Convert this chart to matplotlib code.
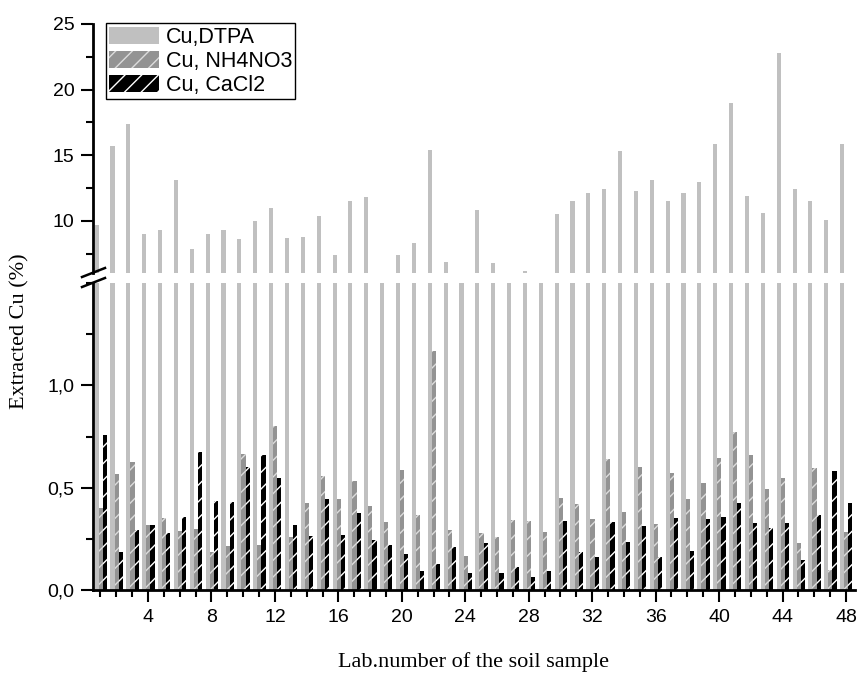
import numpy as np
import matplotlib
matplotlib.use('Agg')
import matplotlib.pyplot as plt
from matplotlib.ticker import MultipleLocator, FuncFormatter
from matplotlib.patches import Patch
from matplotlib.lines import Line2D

samples = np.arange(1, 49)

# Cu extracted with DTPA (%), values under 6 are hidden by the axis break
cu_dtpa = [9.7, 15.7, 17.4, 9.0, 9.3, 13.1, 7.9, 9.0, 9.3, 8.6,
           10.0, 11.0, 8.7, 8.8, 10.4, 7.4, 11.5, 11.8, 5.0, 7.4,
           8.3, 15.4, 6.9, 5.0, 10.8, 6.8, 5.0, 6.2, 5.0, 10.5,
           11.5, 12.1, 12.4, 15.3, 12.3, 13.1, 11.5, 12.1, 13.0, 15.9,
           19.0, 11.9, 10.6, 22.8, 12.4, 11.5, 10.1, 15.9]

cu_nh4no3 = [0.40, 0.565, 0.625, 0.318, 0.35, 0.29, 0.30, 0.186, 0.215, 0.664,
             0.22, 0.80, 0.257, 0.423, 0.555, 0.445, 0.531, 0.41, 0.331, 0.588,
             0.365, 1.168, 0.293, 0.164, 0.277, 0.26, 0.344, 0.335, 0.283, 0.448,
             0.419, 0.347, 0.64, 0.383, 0.601, 0.321, 0.57, 0.443, 0.521, 0.643,
             0.77, 0.658, 0.492, 0.547, 0.23, 0.598, 0.096, 0.285]

cu_cacl2 = [0.756, 0.187, 0.293, 0.318, 0.28, 0.358, 0.676, 0.436, 0.428, 0.60,
            0.658, 0.549, 0.319, 0.262, 0.445, 0.267, 0.378, 0.244, 0.22, 0.176,
            0.091, 0.129, 0.208, 0.081, 0.23, 0.083, 0.114, 0.065, 0.093, 0.335,
            0.184, 0.16, 0.332, 0.233, 0.313, 0.16, 0.35, 0.189, 0.345, 0.355,
            0.427, 0.329, 0.301, 0.329, 0.145, 0.366, 0.583, 0.427]

labels = ['Cu,DTPA', 'Cu, NH4NO3', 'Cu, CaCl2']

plt.rcParams['font.family'] = ['Liberation Sans', 'DejaVu Sans']
plt.rcParams['hatch.linewidth'] = 1.0

W, H = 860, 673
fig = plt.figure(figsize=(W / 100, H / 100), dpi=100)

left, right = 93 / W, 855 / W
ax_top = fig.add_axes([left, 1 - 273 / H, right - left, (273 - 24) / H])
ax_bot = fig.add_axes([left, 1 - 590 / H, right - left, (590 - 283) / H])

width = 0.26
styles = [
    dict(color='#c0c0c0', lw=0),
    dict(facecolor='#939393', edgecolor='#dcdcdc', hatch='//', lw=0),
    dict(facecolor='black', edgecolor='white', hatch='//', lw=0),
]
offsets = [-0.24, 0.02, 0.28]

for ax in (ax_top, ax_bot):
    for vals, off, st in zip([cu_dtpa, cu_nh4no3, cu_cacl2], offsets, styles):
        ax.bar(samples + off, vals, width=width, **st)
    ax.set_xlim(0.53, 48.57)
    for s in ['top', 'right']:
        ax.spines[s].set_visible(False)
    ax.spines['left'].set_linewidth(2)
    ax.spines['bottom'].set_linewidth(2)
    ax.tick_params(axis='both', which='major', length=8.5, width=1.5,
                   labelsize=14, pad=5)
    ax.tick_params(axis='both', which='minor', length=5, width=1.5)

ax_top.set_ylim(6.04, 25)
ax_top.spines['bottom'].set_visible(False)
ax_top.set_xticks([])
ax_top.xaxis.set_minor_locator(plt.NullLocator())
ax_top.yaxis.set_major_locator(MultipleLocator(5))
ax_top.yaxis.set_minor_locator(MultipleLocator(2.5))
ax_top.set_yticks([10, 15, 20, 25])

ax_bot.set_ylim(0, 1.5)
ax_bot.yaxis.set_major_locator(MultipleLocator(0.5))
ax_bot.yaxis.set_minor_locator(MultipleLocator(0.25))
ax_bot.set_yticks([0, 0.5, 1.0])
ax_bot.yaxis.set_major_formatter(FuncFormatter(lambda v, p: f"{v:.1f}".replace('.', ',')))
ax_bot.xaxis.set_major_locator(MultipleLocator(4))
ax_bot.xaxis.set_minor_locator(MultipleLocator(1))
ax_bot.set_xticks(np.arange(4, 49, 4))

# axis break marks
for y0 in (277, 287):
    fig.add_artist(Line2D([82 / W, 105 / W], [1 - y0 / H, 1 - (y0 - 9) / H],
                          transform=fig.transFigure, color='black', lw=1.8))

handles = [Patch(**st) for st in styles]
leg = fig.legend(handles, labels, loc='upper left',
                 bbox_to_anchor=(106 / W, 1 - 23.3 / H), bbox_transform=fig.transFigure,
                 borderaxespad=0, fontsize=15.5, frameon=True, fancybox=False,
                 edgecolor='black', handlelength=2.3, handleheight=0.88,
                 handletextpad=0.33, borderpad=0.15, labelspacing=0.13)
leg.get_frame().set_linewidth(1.0)
leg.get_frame().set_alpha(1)

serif = ['Liberation Serif', 'DejaVu Serif']
fig.text(20 / W, 1 - 331 / H, 'Extracted Cu (%)', rotation=90, ha='center',
         va='center', fontsize=16, family=serif)
fig.text(473.5 / W, 1 - 667 / H, 'Lab.number of the soil sample', ha='center',
         va='baseline', fontsize=16, family=serif)

fig.savefig('out.png', dpi=100)
